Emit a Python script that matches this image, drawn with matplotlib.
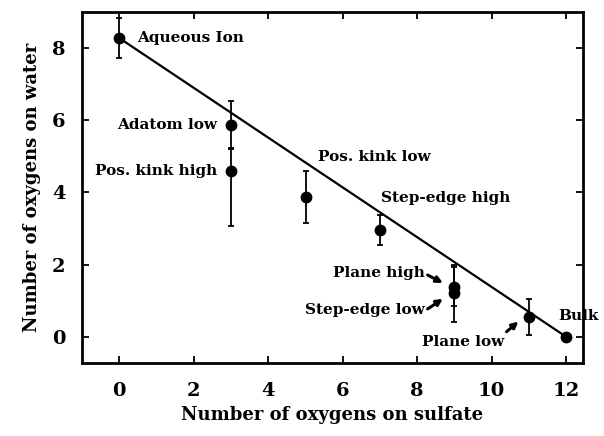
import numpy as np
import matplotlib
matplotlib.use("Agg")
import matplotlib.pyplot as plt

plt.rcParams["font.family"] = "DejaVu Serif"
plt.rcParams["font.weight"] = "bold"

# oxygens on sulfate vs oxygens on water, with error bars
sulfate_o = [0, 3, 3, 5, 7, 9, 9, 11, 12]
water_o = [8.27, 5.87, 4.60, 3.87, 2.96, 1.39, 1.20, 0.54, 0.0]
err_low = [0.55, 0.65, 1.53, 0.72, 0.42, 0.55, 0.78, 0.50, 0.0]
err_high = [0.55, 0.65, 0.60, 0.72, 0.42, 0.55, 0.78, 0.50, 0.0]

# straight line from aqueous ion to bulk
line_x = [0, 12]
line_y = [8.27, 0.0]

# plain labels: text, x, y, alignment
labels = [
    ("Aqueous Ion", 0.48, 8.28, "left"),
    ("Adatom low", 2.63, 5.87, "right"),
    ("Pos. kink high", 2.63, 4.60, "right"),
    ("Pos. kink low", 5.33, 4.98, "left"),
    ("Step-edge high", 7.02, 3.84, "left"),
    ("Plane high", 8.20, 1.77, "right"),
    ("Step-edge low", 8.20, 0.74, "right"),
    ("Plane low", 10.35, -0.14, "right"),
    ("Bulk", 11.8, 0.57, "left"),
]

# arrows: head, tail
arrows = [
    ((8.69, 1.49), (8.28, 1.71)),
    ((8.69, 1.05), (8.28, 0.77)),
    ((10.72, 0.42), (10.40, 0.14)),
]

fig = plt.figure(figsize=(6.04, 4.36), dpi=100)
ax = fig.add_axes([0.136, 0.168, 0.829, 0.805])

ax.plot(line_x, line_y, color="black", lw=1.6, zorder=2)
ax.errorbar(sulfate_o, water_o, yerr=[err_low, err_high], fmt="o",
            color="black", markersize=7.5, elinewidth=1.3, capsize=2.5,
            capthick=1.3, zorder=3)

for text, x, y, ha in labels:
    ax.text(x, y, text, ha=ha, va="center", fontsize=11, fontweight="bold")

for head, tail in arrows:
    ax.annotate("", xy=head, xytext=tail,
                arrowprops=dict(arrowstyle="-|>", color="black", lw=2.2,
                                mutation_scale=9, shrinkA=0, shrinkB=0))

ax.set_xlim(-1, 12.45)
ax.set_ylim(-0.72, 9.0)
ax.set_xticks([0, 2, 4, 6, 8, 10, 12])
ax.set_yticks([0, 2, 4, 6, 8])
ax.tick_params(direction="in", top=True, right=True, length=5, width=1.3,
               labelsize=14)
ax.tick_params(axis="x", pad=14)
ax.tick_params(axis="y", pad=12)
for spine in ax.spines.values():
    spine.set_linewidth(2)

ax.set_xlabel("Number of oxygens on sulfate", fontsize=13, fontweight="bold",
              labelpad=4)
ax.set_ylabel("Number of oxygens on water", fontsize=13, fontweight="bold",
              labelpad=8)

fig.savefig("out.png", dpi=100)
